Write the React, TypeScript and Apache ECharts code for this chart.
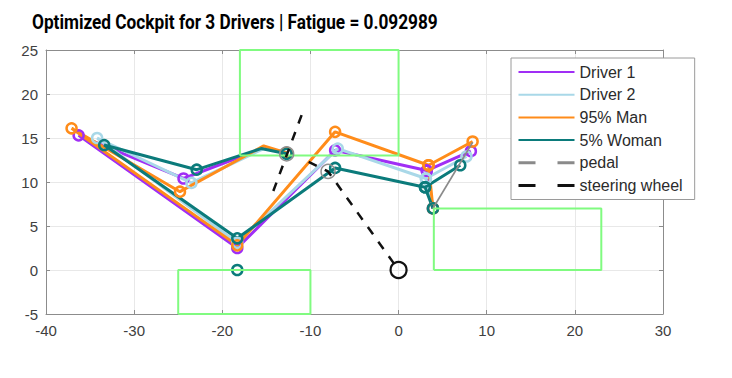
import React, { useEffect, useRef } from "react";
import * as echarts from "echarts";

// ---- data (x, y) ----
// point order: hand, wrist, elbow, shoulder, hip, knee, ankle, toe, ankle, heel
const driver1: number[][] = [[-12.7, 13.3], [-15.2, 13.9], [-24.4, 10.4], [-36.3, 15.3], [-18.3, 2.5], [-7.2, 13.6], [3.2, 11.3], [8.2, 13.5], [3.2, 11.3], [3.9, 7.0]];
const driver2: number[][] = [[-12.7, 13.3], [-15.3, 13.8], [-23.5, 9.9], [-34.2, 15.0], [-18.3, 3.1], [-6.9, 13.8], [3.1, 10.4], [7.7, 12.9], [3.1, 10.4], [3.9, 7.0]];
const man95: number[][] = [[-12.7, 13.3], [-15.3, 14.1], [-24.8, 8.9], [-37.1, 16.1], [-18.3, 2.8], [-7.2, 15.7], [3.4, 11.9], [8.4, 14.6], [3.4, 11.9], [3.9, 7.0]];
const woman5: number[][] = [[-12.7, 13.2], [-15.6, 13.8], [-22.9, 11.4], [-33.4, 14.2], [-18.3, 3.6], [-7.2, 11.6], [3.0, 9.4], [7.0, 11.9], [3.0, 9.4], [3.9, 7.0]];
const seatPoint: number[][] = [[-18.3, 0]];
const pedalLine: number[][] = [[3.9, 7.0], [8.4, 14.5]];
const steeringColumn: number[][] = [[-11.0, 17.6], [-14.5, 8.2]];
const steeringLink: number[][] = [[-10.2, 12.3], [-8.0, 11.2], [0, 0]];
const gripPoints: number[][] = [[-12.7, 13.2], [-8.0, 11.2]];
const originPoint: number[][] = [[0, 0]];
const zoneSteer: number[][] = [[-18, 13], [0, 13], [0, 25], [-18, 25], [-18, 13]];
const zoneSeat: number[][] = [[-25, -5], [-10, -5], [-10, 0], [-25, 0], [-25, -5]];
const zonePedal: number[][] = [[4, 0], [23, 0], [23, 7], [4, 7], [4, 0]];

const seriesNames = ["Driver 1", "Driver 2", "95% Man", "5% Woman", "pedal", "steering wheel"];
const xMin = -40, xMax = 30, xStep = 10;
const yMin = -5, yMax = 25, yStep = 5;
const titleText = "Optimized Cockpit for 3 Drivers | Fatigue = 0.092989";

const COLORS = {
  d1: "#a02ef5",
  d2: "#a9d8e8",
  man: "#ff8c1a",
  woman: "#0b7b7b",
  pedal: "#8a8a8a",
  steer: "#111111",
  zone: "#80fb80",
};

function driverSeries(name: string, pts: number[][], color: string) {
  return {
    name,
    type: "line",
    data: pts.map((p, i) => (i === 1 ? { value: p, symbol: "none" } : { value: p })),
    symbol: "circle",
    symbolSize: 10,
    showAllSymbol: true,
    lineStyle: { color, width: 3 },
    itemStyle: { color: "rgba(0,0,0,0)", borderColor: color, borderWidth: 2.5 },
    emphasis: { disabled: true },
    z: 3,
  };
}

export default function App() {
  const ref = useRef<HTMLDivElement>(null);
  useEffect(() => {
    if (!ref.current) return;
    const chart = echarts.init(ref.current, undefined, { renderer: "svg" });

    const fontSize = 20;
    let scaleX = 0.78;
    try {
      const ctx = document.createElement("canvas").getContext("2d");
      if (ctx) {
        ctx.font = `bold ${fontSize}px Roboto`;
        const w = ctx.measureText(titleText).width;
        if (w > 0) scaleX = 406 / w;
      }
    } catch (e) {}

    const axisLabel = { color: "#404040", fontSize: 15, fontFamily: "Liberation Sans" };
    const axisLine = { show: true, onZero: false, lineStyle: { color: "#8c8c8c", width: 1 } };
    const axisTick = { show: true, inside: true, length: 4, lineStyle: { color: "#8c8c8c" } };

    const zone = (pts: number[][]) => ({
      type: "line",
      data: pts,
      symbol: "none",
      lineStyle: { color: COLORS.zone, width: 2 },
      silent: true,
      z: 5,
    });

    chart.setOption({
      animation: false,
      backgroundColor: "#ffffff",
      graphic: [
        {
          type: "text",
          x: 32,
          y: 13,
          scaleX,
          style: {
            text: titleText,
            fontSize,
            fontWeight: "bold",
            fontFamily: "Roboto",
            fill: "#000000",
            textAlign: "left",
            textVerticalAlign: "top",
          },
        },
      ],
      grid: { left: 46, right: 69, top: 50, bottom: 64, show: false },
      xAxis: [
        {
          type: "value",
          min: xMin,
          max: xMax,
          interval: xStep,
          axisLine,
          axisTick,
          axisLabel: { ...axisLabel, margin: 9 },
          splitLine: { show: true, lineStyle: { color: "#e8e8e8", width: 1 } },
        },
        {
          type: "value",
          position: "top",
          min: xMin,
          max: xMax,
          interval: xStep,
          axisLine,
          axisTick,
          axisLabel: { show: false },
          splitLine: { show: false },
        },
      ],
      yAxis: [
        {
          type: "value",
          min: yMin,
          max: yMax,
          interval: yStep,
          axisLine,
          axisTick,
          axisLabel: { ...axisLabel, margin: 8 },
          splitLine: { show: true, lineStyle: { color: "#e8e8e8", width: 1 } },
        },
        {
          type: "value",
          position: "right",
          min: yMin,
          max: yMax,
          interval: yStep,
          axisLine,
          axisTick,
          axisLabel: { show: false },
          splitLine: { show: false },
        },
      ],
      legend: {
        data: [
          { name: "Driver 1" },
          { name: "Driver 2" },
          { name: "95% Man" },
          { name: "5% Woman" },
          { name: "pedal", lineStyle: { type: [17, 22], width: 3, color: COLORS.pedal } },
          { name: "steering wheel", lineStyle: { type: [17, 22], width: 3, color: COLORS.steer } },
        ],
        orient: "vertical",
        left: 511,
        top: 58,
        padding: [6, 12, 6, 6],
        itemWidth: 56,
        itemHeight: 14,
        itemGap: 6.7,
        itemStyle: { opacity: 0 },
        backgroundColor: "#ffffff",
        borderColor: "#9a9a9a",
        borderWidth: 1,
        borderRadius: 0,
        textStyle: { fontSize: 16, color: "#2b2b2b", fontFamily: "Liberation Sans" },
        selectedMode: false,
      },
      series: [
        driverSeries(seriesNames[0], driver1, COLORS.d1),
        driverSeries(seriesNames[1], driver2, COLORS.d2),
        driverSeries(seriesNames[2], man95, COLORS.man),
        driverSeries(seriesNames[3], woman5, COLORS.woman),
        {
          type: "line",
          data: seatPoint,
          symbol: "circle",
          symbolSize: 10,
          lineStyle: { width: 0 },
          itemStyle: { color: "rgba(0,0,0,0)", borderColor: COLORS.woman, borderWidth: 2.5 },
          z: 4,
        },
        {
          name: seriesNames[4],
          type: "line",
          data: pedalLine,
          symbol: "none",
          lineStyle: { color: COLORS.pedal, width: 1.8, type: "solid" },
          z: 4,
        },
        {
          name: seriesNames[5],
          type: "line",
          data: steeringColumn,
          symbol: "none",
          lineStyle: { color: COLORS.steer, width: 2.5, type: [9, 9] },
          z: 6,
        },
        {
          name: seriesNames[5],
          type: "line",
          data: steeringLink,
          symbol: "none",
          lineStyle: { color: COLORS.steer, width: 2.5, type: [9, 9] },
          z: 6,
        },
        {
          type: "line",
          data: gripPoints,
          symbol: "circle",
          symbolSize: 14,
          lineStyle: { width: 0 },
          itemStyle: { color: "rgba(0,0,0,0)", borderColor: "#8f8f8f", borderWidth: 1.5 },
          z: 6,
        },
        {
          type: "line",
          data: originPoint,
          symbol: "circle",
          symbolSize: 16,
          lineStyle: { width: 0 },
          itemStyle: { color: "rgba(0,0,0,0)", borderColor: "#111111", borderWidth: 2.2 },
          z: 6,
        },
        zone(zoneSteer),
        zone(zoneSeat),
        zone(zonePedal),
      ],
    });
    return () => chart.dispose();
  }, []);

  return (
    <div
      ref={ref}
      style={{ position: "fixed", left: 0, top: 0, width: 732, height: 378, background: "#fff" }}
    />
  );
}
